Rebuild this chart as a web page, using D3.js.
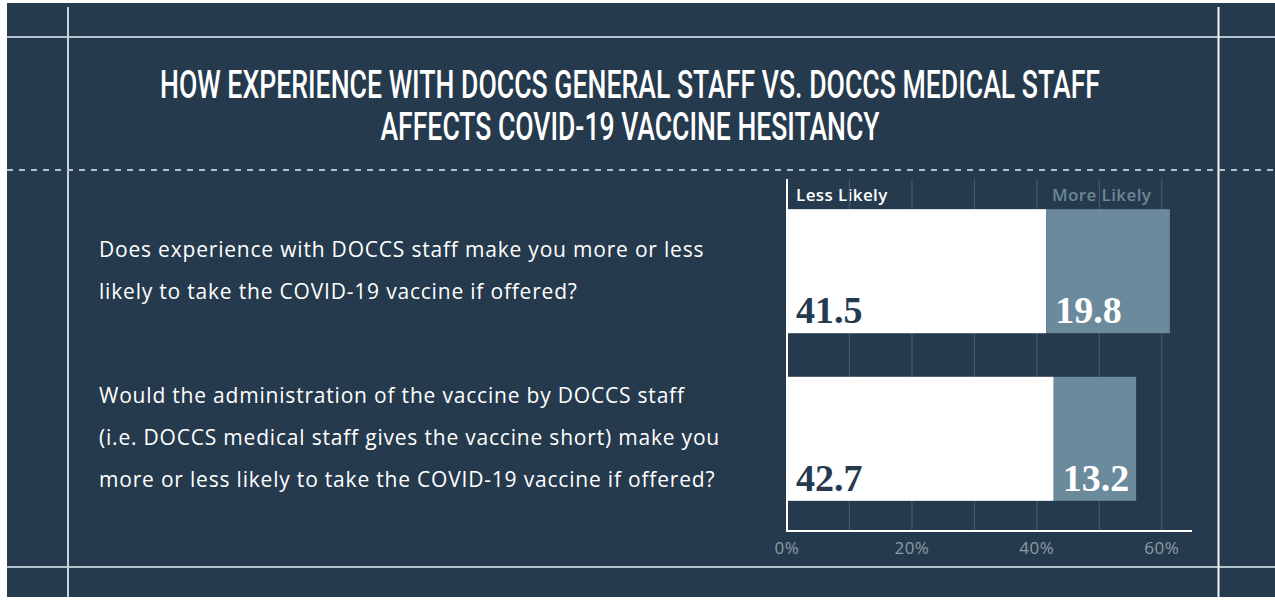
<!DOCTYPE html>
<html>
<head>
<meta charset="utf-8">
<script src="https://cdn.jsdelivr.net/npm/d3@7"></script>
<style>
  body { margin: 0; background: #fff; }
  svg { display: block; }
</style>
</head>
<body>
<div id="chart"></div>
<script>
const questions = [
  ["Does experience with DOCCS staff make you more or less",
   "likely to take the COVID-19 vaccine if offered?"],
  ["Would the administration of the vaccine by DOCCS staff",
   "(i.e. DOCCS medical staff gives the vaccine short) make you",
   "more or less likely to take the COVID-19 vaccine if offered?"]
];
const lessLikely = [41.5, 42.7];
const moreLikely = [19.8, 13.2];
const gridTicks = [0, 10, 20, 30, 40, 50, 60];
const labelTicks = [0, 20, 40, 60];
const titleLines = ["HOW EXPERIENCE WITH DOCCS GENERAL STAFF VS. DOCCS MEDICAL STAFF",
                    "AFFECTS COVID-19 VACCINE HESITANCY"];
const titleWidths = [940, 499];

const width = 1275;
const height = 600;
const bg = "#253a4d";

const svg = d3.select("#chart")
  .append("svg")
  .attr("width", width)
  .attr("height", height);

svg.append("rect")
  .attr("x", 7).attr("y", 3)
  .attr("width", width - 7).attr("height", 594)
  .attr("fill", bg);

// frame lines
svg.append("line")
  .attr("x1", 7).attr("x2", width).attr("y1", 37).attr("y2", 37)
  .attr("stroke", "#b3c2cc").attr("stroke-width", 2);
svg.append("line")
  .attr("x1", 7).attr("x2", width).attr("y1", 567).attr("y2", 567)
  .attr("stroke", "#b3c2cc").attr("stroke-width", 2);
svg.append("line")
  .attr("x1", 68).attr("x2", 68).attr("y1", 7).attr("y2", 597)
  .attr("stroke", "#c8d3da").attr("stroke-width", 2);
svg.append("line")
  .attr("x1", 1218.5).attr("x2", 1218.5).attr("y1", 7).attr("y2", 597)
  .attr("stroke", "#f2f5f7").attr("stroke-width", 2);
svg.append("line")
  .attr("x1", 7).attr("x2", width).attr("y1", 170).attr("y2", 170)
  .attr("stroke", "#b3c2cc").attr("stroke-width", 2)
  .attr("stroke-dasharray", "6,6");

// title (condensed look via textLength)
svg.append("g").selectAll("text")
  .data(titleLines)
  .join("text")
  .attr("x", 630)
  .attr("y", (d, i) => 98 + i * 42)
  .attr("text-anchor", "middle")
  .attr("fill", "#ffffff")
  .attr("font-family", "Roboto, sans-serif")
  .attr("font-size", 38)
  .attr("font-weight", 500)
  .attr("textLength", (d, i) => titleWidths[i])
  .attr("lengthAdjust", "spacingAndGlyphs")
  .text(d => d);

// questions
const qTop = [257, 403];
questions.forEach((lines, qi) => {
  svg.append("g").selectAll("text")
    .data(lines)
    .join("text")
    .attr("x", 99)
    .attr("y", (d, i) => qTop[qi] + i * 42)
    .attr("fill", "#ffffff")
    .attr("font-family", "'Open Sans', sans-serif")
    .attr("font-size", 21)
    .attr("letter-spacing", 0.8)
    .text(d => d);
});

// chart
const x = d3.scaleLinear().domain([0, 65]).range([787, 1193]);
const y = d3.scaleBand().domain(d3.range(lessLikely.length))
  .range([179, 531]).paddingInner(0.26).paddingOuter(0.18);

// legend
svg.append("text")
  .attr("x", 796).attr("y", 201)
  .attr("fill", "#ffffff")
  .attr("font-family", "'Open Sans', sans-serif")
  .attr("font-weight", 600)
  .attr("font-size", 17)
  .attr("letter-spacing", 0.4)
  .text("Less Likely");
svg.append("text")
  .attr("x", 1052).attr("y", 201)
  .attr("fill", "#6b8797")
  .attr("font-family", "'Open Sans', sans-serif")
  .attr("font-weight", 600)
  .attr("font-size", 17)
  .attr("letter-spacing", 0.4)
  .text("More Likely");

svg.append("g").selectAll("line")
  .data(gridTicks.slice(1))
  .join("line")
  .attr("x1", d => x(d)).attr("x2", d => x(d))
  .attr("y1", 179).attr("y2", 531)
  .attr("stroke", "#4b6070").attr("stroke-width", 1);

svg.append("g").selectAll("rect")
  .data(lessLikely)
  .join("rect")
  .attr("x", x(0))
  .attr("y", (d, i) => y(i))
  .attr("width", d => x(d) - x(0))
  .attr("height", y.bandwidth())
  .attr("fill", "#ffffff");

svg.append("g").selectAll("rect")
  .data(moreLikely)
  .join("rect")
  .attr("x", (d, i) => x(lessLikely[i]))
  .attr("y", (d, i) => y(i))
  .attr("width", (d, i) => x(lessLikely[i] + d) - x(lessLikely[i]))
  .attr("height", y.bandwidth())
  .attr("fill", "#6b8a9b");

const valueFont = "'Liberation Serif', 'DejaVu Serif', serif";
svg.append("g").selectAll("text")
  .data(lessLikely)
  .join("text")
  .attr("x", x(0) + 9)
  .attr("y", (d, i) => y(i) + y.bandwidth() - 10)
  .attr("fill", bg)
  .attr("font-family", valueFont)
  .attr("font-weight", "bold")
  .attr("font-size", 38)
  .text(d => d.toFixed(1));

svg.append("g").selectAll("text")
  .data(moreLikely)
  .join("text")
  .attr("x", (d, i) => x(lessLikely[i]) + 9)
  .attr("y", (d, i) => y(i) + y.bandwidth() - 10)
  .attr("fill", "#ffffff")
  .attr("font-family", valueFont)
  .attr("font-weight", "bold")
  .attr("font-size", 38)
  .text(d => d.toFixed(1));

// axes
svg.append("line")
  .attr("x1", x(0)).attr("x2", x(0)).attr("y1", 179).attr("y2", 531)
  .attr("stroke", "#ffffff").attr("stroke-width", 2);
svg.append("line")
  .attr("x1", x(0) - 1).attr("x2", 1192).attr("y1", 531).attr("y2", 531)
  .attr("stroke", "#ffffff").attr("stroke-width", 2);

svg.append("g").selectAll("text")
  .data(labelTicks)
  .join("text")
  .attr("x", d => x(d))
  .attr("y", 554)
  .attr("text-anchor", "middle")
  .attr("fill", "#8d9ca7")
  .attr("font-family", "'Open Sans', sans-serif")
  .attr("font-size", 17)
  .attr("letter-spacing", 0.5)
  .text(d => d + "%");
</script>
</body>
</html>
